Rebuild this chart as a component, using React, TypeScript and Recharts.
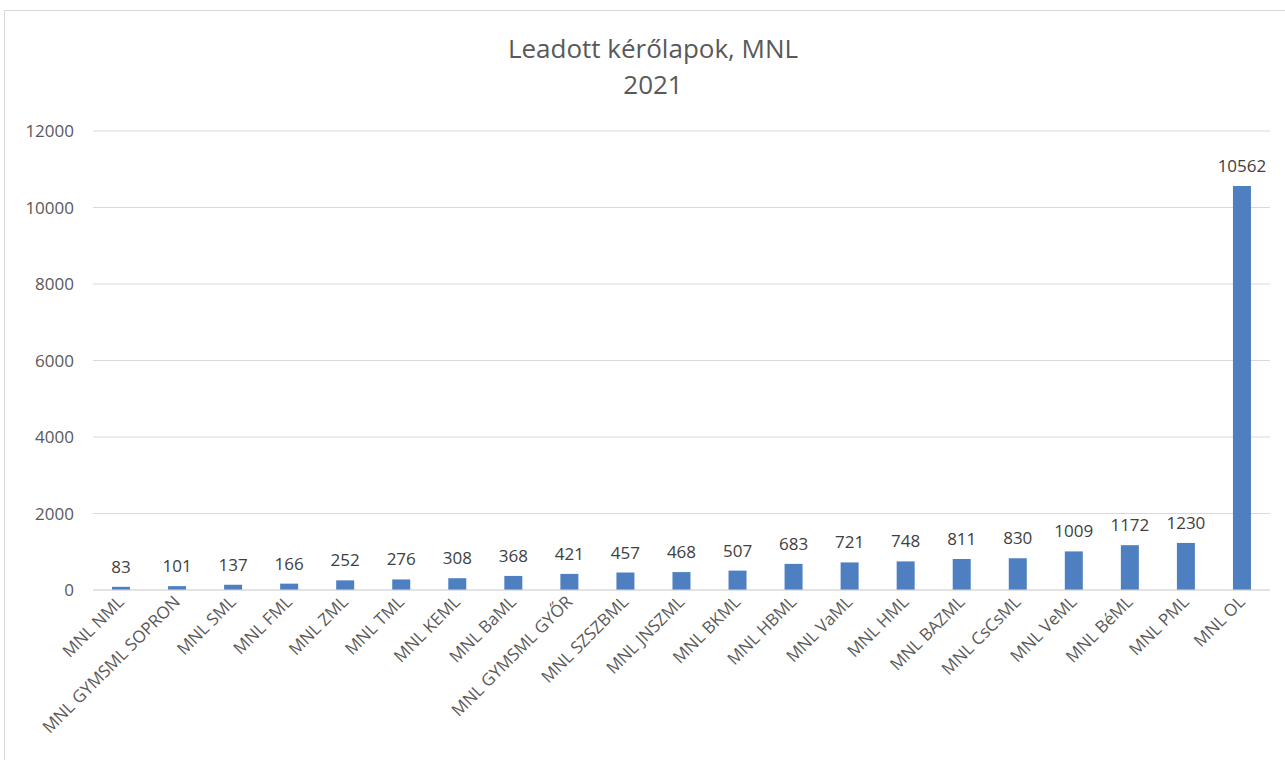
import React from 'react';
import { BarChart, Bar, XAxis, YAxis, CartesianGrid, LabelList } from 'recharts';

const categories = [
  'MNL NML', 'MNL GYMSML SOPRON', 'MNL SML', 'MNL FML', 'MNL ZML', 'MNL TML', 'MNL KEML',
  'MNL BaML', 'MNL GYMSML GYŐR', 'MNL SZSZBML', 'MNL JNSZML', 'MNL BKML', 'MNL HBML',
  'MNL VaML', 'MNL HML', 'MNL BAZML', 'MNL CsCsML', 'MNL VeML', 'MNL BéML', 'MNL PML', 'MNL OL',
];
const values = [83, 101, 137, 166, 252, 276, 308, 368, 421, 457, 468, 507, 683, 721, 748, 811, 830, 1009, 1172, 1230, 10562];
const yTicks = [0, 2000, 4000, 6000, 8000, 10000, 12000];

const FONT = '"Open Sans", sans-serif';
const TEXT = '#595959';
const GRID = '#d9d9d9';
const BAR = '#4e7fc0';

const data = categories.map((name, i) => ({ name, value: values[i] }));

// rotated category label, end-anchored at the tick
const CategoryTick = (props: any) => {
  const { x, y, payload } = props;
  return (
    <text
      transform={`translate(${x + 4},${y + 5}) rotate(-45)`}
      textAnchor="end"
      fill={TEXT}
      fontSize={17}
      fontFamily={FONT}
    >
      {payload.value}
    </text>
  );
};

const App: React.FC = () => {
  return (
    <div style={{ position: 'absolute', left: 0, top: 0, width: 1285, height: 760, background: '#fff', overflow: 'hidden' }}>
      {/* chart frame */}
      <div
        style={{
          position: 'absolute',
          left: 4,
          top: 10,
          width: 1290,
          height: 760,
          border: `1px solid ${GRID}`,
          boxSizing: 'border-box',
        }}
      />
      <div
        style={{
          position: 'absolute',
          left: 0,
          top: 30,
          width: 1306,
          textAlign: 'center',
          fontFamily: FONT,
          fontSize: 26,
          color: TEXT,
          lineHeight: '36px',
        }}
      >
        <div>Leadott kérőlapok, MNL</div>
        <div>2021</div>
      </div>
      <div style={{ position: 'absolute', left: 0, top: 0 }}>
        <BarChart
          width={1285}
          height={760}
          data={data}
          margin={{ top: 131, right: 15, bottom: 0, left: 0 }}
          barCategoryGap={0}
        >
          <CartesianGrid vertical={false} stroke={GRID} strokeWidth={1} />
          <XAxis
            dataKey="name"
            interval={0}
            height={170}
            tick={<CategoryTick />}
            tickLine={false}
            axisLine={{ stroke: GRID }}
          />
          <YAxis
            width={93}
            domain={[0, 12000]}
            ticks={yTicks}
            tickLine={false}
            axisLine={false}
            tick={{ fill: TEXT, fontSize: 17, fontFamily: FONT }}
            tickMargin={13}
          />
          <Bar dataKey="value" fill={BAR} barSize={18} isAnimationActive={false}>
            <LabelList
              dataKey="value"
              position="top"
              offset={14}
              fill="#404040"
              fontSize={17}
              fontFamily={FONT}
            />
          </Bar>
        </BarChart>
      </div>
    </div>
  );
};

export default App;
